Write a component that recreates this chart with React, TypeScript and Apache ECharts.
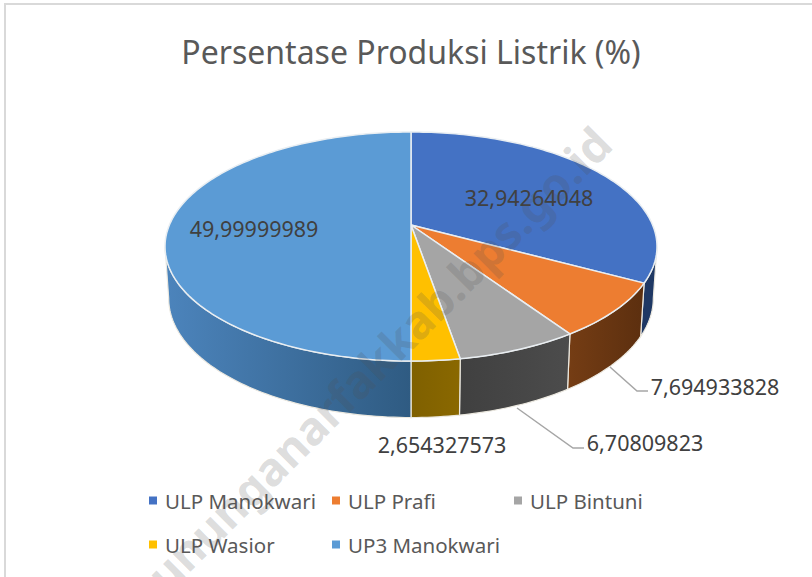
import React, { useEffect, useRef } from "react";
import * as echarts from "echarts";

const titleText = "Persentase Produksi Listrik (%)";
const watermarkText = "gununganarfakkab.bps.go.id";
const categories = ["ULP Manokwari", "ULP Prafi", "ULP Bintuni", "ULP Wasior", "UP3 Manokwari"];
const values = [32.94264048, 7.694933828, 6.70809823, 2.654327573, 49.99999989];
const valueLabels = ["32,94264048", "7,694933828", "6,70809823", "2,654327573", "49,99999989"];

const topColors = ["#4472c4", "#ed7d31", "#a5a5a5", "#ffc000", "#5b9bd5"];
const wallStops = [
  ["#1f3864", "#1f3864"],
  ["#753d14", "#5c2f0f"],
  ["#404040", "#4c4c4c"],
  ["#7f6000", "#8a6800"],
  ["#4c84bc", "#2f5b82"],
];
const labelCentres = [
  [529, 197],
  [715, 386],
  [645, 442],
  [442, 444],
  [254, 228],
];
const leaders: (number[][] | null)[] = [
  null,
  [[610, 367], [637, 391], [648, 391]],
  [[517, 408], [573, 448], [584, 448]],
  null,
  null,
];
const legendSpots = [
  [149, 490],
  [332, 490],
  [514, 490],
  [149, 534],
  [332, 534],
];

const FONT = '"Noto Sans", sans-serif';
const CX = 411;
const APEX_Y = 225;
const PERSP = 0.188;
const RX = 241.6;
const RY = 110.5;
const total = values.reduce((a, b) => a + b, 0);

function topPoint(t: number) {
  const den = 1 + PERSP * Math.cos(t);
  return [CX + (RX * Math.sin(t)) / den, APEX_Y - (RY * Math.cos(t)) / den];
}
function bottomPoint(t: number) {
  const p = topPoint(t);
  return [CX + (p[0] - CX) * 0.985, APEX_Y + (p[1] - APEX_Y) * 1.04 + 51];
}
function arcPoints(from: number, to: number, fn: (t: number) => number[]) {
  const n = Math.max(2, Math.ceil(Math.abs(to - from) / 0.02));
  const out: number[][] = [];
  for (let i = 0; i <= n; i++) out.push(fn(from + ((to - from) * i) / n));
  return out;
}
function toPath(pts: number[][]) {
  return pts.map((p, i) => `${i ? "L" : "M"}${p[0].toFixed(2)} ${p[1].toFixed(2)}`).join("") + "Z";
}

const VIS_FROM = Math.acos(-PERSP);
const VIS_TO = 2 * Math.PI - VIS_FROM;

function makeRenderItem(idx: number) {
  return (_params: any, api: any) => {
    const start = (api.value(0) / total) * 2 * Math.PI;
    const end = (api.value(1) / total) * 2 * Math.PI;
    const children: any[] = [];
    const a = Math.max(start, VIS_FROM);
    const b = Math.min(end, VIS_TO);
    if (b > a) {
      const pts = [...arcPoints(a, b, topPoint), ...arcPoints(b, a, bottomPoint)];
      children.push({
        type: "path",
        shape: { pathData: toPath(pts) },
        z2: 1,
        style: {
          fill: new echarts.graphic.LinearGradient(0, 0, 1, 0, [
            { offset: 0, color: wallStops[idx][0] },
            { offset: 1, color: wallStops[idx][1] },
          ]),
          stroke: "#ece9e0",
          lineWidth: 1.2,
        },
      });
    }
    const topPts = [[CX, APEX_Y], ...arcPoints(start, end, topPoint)];
    children.push({
      type: "path",
      shape: { pathData: toPath(topPts) },
      z2: 2,
      style: { fill: topColors[idx], stroke: "#e9eef2", lineWidth: 1.5 },
    });
    const lead = leaders[idx];
    if (lead) {
      children.push({
        type: "polyline",
        z2: 3,
        shape: { points: lead },
        style: { fill: "none", stroke: "#a6a6a6", lineWidth: 1.5 },
      });
    }
    children.push({
      type: "text",
      z2: 4,
      x: labelCentres[idx][0],
      y: labelCentres[idx][1],
      style: {
        text: valueLabels[idx],
        fill: "#404040",
        font: `21.5px ${FONT}`,
        align: "center",
        verticalAlign: "middle",
      },
    });
    return { type: "group", children };
  };
}

let running = 0;
const spans = values.map((v) => {
  const s = [running, running + v];
  running += v;
  return s;
});

export default function App() {
  const ref = useRef<HTMLDivElement>(null);
  useEffect(() => {
    document.body.style.margin = "0";
    const chart = echarts.init(ref.current!, undefined, { renderer: "svg" });
    chart.setOption({
      animation: false,
      backgroundColor: "#ffffff",
      title: {
        text: titleText,
        left: 406,
        top: 30,
        textAlign: "center",
        textStyle: { fontFamily: FONT, fontSize: 32, fontWeight: "normal", color: "#595959" },
      },
      legend: categories.map((name, i) => ({
        data: [name],
        left: legendSpots[i][0],
        top: legendSpots[i][1],
        padding: 0,
        icon: "rect",
        itemWidth: 8,
        itemHeight: 8,
        itemGap: 0,
        selectedMode: false,
        textStyle: { fontFamily: FONT, fontSize: 20.5, color: "#595959", padding: [0, 0, 0, 3] },
      })),
      series: categories.map((name, i) => ({
        type: "custom",
        name,
        coordinateSystem: "none",
        silent: true,
        itemStyle: { color: topColors[i] },
        data: [{ name, value: [spans[i][0], spans[i][1], values[i]] }],
        renderItem: makeRenderItem(i),
      })),
      graphic: [
        {
          type: "rect",
          z: -1,
          shape: { x: 5, y: 4, width: 900, height: 900 },
          style: { fill: "#ffffff", stroke: "#d9d9d9", lineWidth: 2 },
        },
        {
          type: "text",
          z: 50,
          x: 368,
          y: 369,
          rotation: (45 * Math.PI) / 180,
          style: {
            text: watermarkText,
            fill: "rgba(80,80,80,0.2)",
            font: `bold 46px ${FONT}`,
            align: "center",
            verticalAlign: "middle",
          },
        },
      ],
    });
    return () => chart.dispose();
  }, []);
  return <div ref={ref} style={{ width: 812, height: 577 }} />;
}
